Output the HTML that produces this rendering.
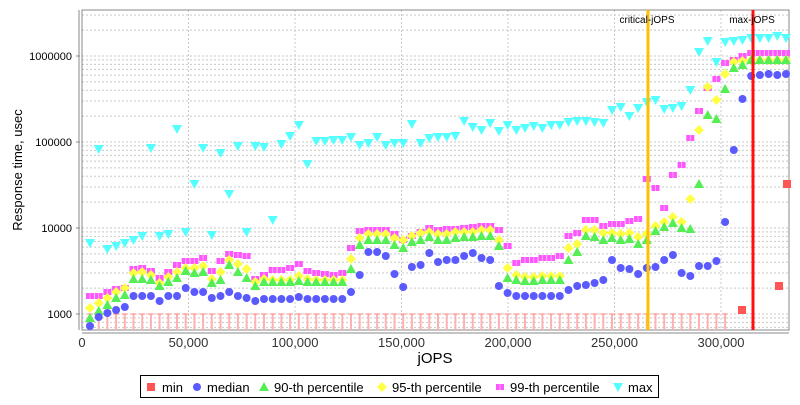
<!DOCTYPE html>
<html><head><meta charset="utf-8"><style>
body{margin:0;background:#fff;font-family:"Liberation Sans","DejaVu Sans",sans-serif;}
svg text{font-family:"Liberation Sans","DejaVu Sans",sans-serif;}
</style></head><body>
<svg id="s" width="800" height="400" xmlns="http://www.w3.org/2000/svg"></svg>
<script>
const s=document.getElementById('s');let h='';
const L=82,R=789,T=10,B=330;
const yv=v=>314-86*(Math.log10(v)-3);
for(let d=2;d<=6;d++){for(let m=1;m<10;m++){const v=Math.pow(10,d)*m;const y=yv(v);if(y<T||y>B)continue;h+=`<line x1="${L}" x2="${R}" y1="${y}" y2="${y}" stroke="#c8c8c8" stroke-dasharray="2,2" stroke-width="1"/>`;}}
for(let k=50000;k<=300000;k+=50000){const x=82+k*0.00213;h+=`<line x1="${x}" x2="${x}" y1="${T}" y2="${B}" stroke="#c8c8c8" stroke-dasharray="2,2"/>`;h+=`<text x="${x}" y="347" font-size="13" fill="#333" text-anchor="middle">${(k/1000)+',000'}</text>`;}
h+=`<text x="${L}" y="347" font-size="13" fill="#333" text-anchor="middle">0</text>`;
[[1000,'1000'],[10000,'10000'],[100000,'100000'],[1000000,'1000000']].forEach(([v,t])=>{const y=yv(v);h+=`<text x="72" y="${y+4}" font-size="11" fill="#000" text-anchor="end">${t}</text><line x1="76" x2="80" y1="${y}" y2="${y}" stroke="#888"/>`;});
h+=`<rect x="${L}" y="${T}" width="${R-L}" height="${B-T}" fill="none" stroke="#888"/>`;
h+=`<line x1="79" x2="79" y1="${T}" y2="${B}" stroke="#888"/><line x1="${L}" x2="${R}" y1="333" y2="333" stroke="#888"/>`;
const X=i=>90+8.7*(i-1);
for(let i=1;i<=74;i++){const x=X(i);h+=`<line x1="${x}" x2="${x}" y1="314" y2="330" stroke="#ffb0b0" stroke-width="2"/><line x1="${x-3}" x2="${x+3}" y1="314" y2="314" stroke="#ff8080"/>`;}
const med=[326,317,313,310,307,296,296,296,301,296,296,288,292,292,298,296,292,296,298,301,299,299,299,299,297,299,299,299,299,299,292,275,252,252,256,274,287,267,265,253,262,260,260,256,253,258,260,286,293,296,296,296,296,296,296,290,286,285,283,280,260,268,269,274,268,267,260,255,273,276,266,266,261,222,150,99,76,75,74,75,74];
const g90=[318,311,305,298,295,279,279,280,286,282,278,271,273,272,283,280,265,272,278,286,282,282,282,282,281,282,282,282,282,282,269,245,240,240,240,245,248,242,240,237,240,240,238,237,237,236,236,246,278,280,281,281,280,280,280,260,252,236,237,240,238,240,239,244,240,231,227,223,228,229,184,115,119,89,68,65,60,60,60,60,60];
const p95=[308,303,298,292,288,273,272,275,283,277,272,268,268,266,279,272,260,264,269,282,279,280,280,280,276,279,280,280,280,280,259,238,234,234,234,238,240,236,233,232,234,234,232,232,232,230,230,240,268,275,277,277,276,276,276,248,244,230,230,233,233,234,233,237,234,226,222,217,222,199,130,87,100,74,62,61,60,60,60,60,60];
const p99=[296,296,292,289,288,269,268,271,278,272,265,261,261,258,271,261,254,255,256,279,275,270,270,268,264,271,273,274,275,273,248,231,230,230,230,234,240,236,232,228,230,229,229,228,227,226,226,230,246,263,260,260,258,258,256,236,233,220,220,226,224,224,221,219,179,188,208,175,165,138,111,88,79,63,60,56,53,53,53,53,53];
const mx=[243,149,249,246,243,240,236,148,236,234,129,232,184,148,235,153,194,146,232,146,147,220,144,136,125,164,141,141,140,140,137,145,143,137,145,143,143,124,143,138,137,137,136,121,127,130,123,131,125,130,128,126,128,125,125,122,121,121,122,123,110,107,116,108,102,100,109,108,106,90,52,41,62,42,41,40,38,38,38,36,38];
const circ=(x,y)=>`<circle cx="${x}" cy="${y}" r="4" fill="#5a5aff"/>`;
const tri=(x,y)=>`<polygon points="${x},${y-5} ${x-5},${y+4} ${x+5},${y+4}" fill="#55ee55"/>`;
const dia=(x,y)=>`<polygon points="${x},${y-5} ${x+5},${y} ${x},${y+5} ${x-5},${y}" fill="#ffff44"/>`;
const sq=(x,y)=>`<rect x="${x-4}" y="${y-3}" width="8" height="6" fill="#ff55ff"/><line x1="${x}" x2="${x}" y1="${y-3}" y2="${y+3}" stroke="#ffaaff"/>`;
const dt=(x,y)=>`<polygon points="${x-5},${y-4} ${x+5},${y-4} ${x},${y+5}" fill="#55ffff"/>`;
mx.forEach((y,i)=>h+=dt(X(i+1),y));
p99.forEach((y,i)=>h+=sq(X(i+1),y));
p95.forEach((y,i)=>h+=dia(X(i+1),y));
g90.forEach((y,i)=>h+=tri(X(i+1),y));
med.forEach((y,i)=>h+=circ(X(i+1),y));
[[742,310],[779,286],[787,184]].forEach(([x,y])=>h+=`<rect x="${x-4}" y="${y-4}" width="8" height="8" fill="#ff5555"/>`);
h+=`<line x1="648" x2="648" y1="${T}" y2="${B}" stroke="#ffc000" stroke-width="3"/>`;
h+=`<line x1="753" x2="753" y1="${T}" y2="${B}" stroke="#ff1010" stroke-width="3"/>`;
h+=`<text x="647" y="23" font-size="10" text-anchor="middle">critical-jOPS</text><text x="752" y="23" font-size="10" text-anchor="middle">max-jOPS</text>`;
h+=`<text x="22" y="170" font-size="13" text-anchor="middle" transform="rotate(-90 22 170)">Response time, usec</text>`;
h+=`<text x="435" y="363" font-size="15" text-anchor="middle">jOPS</text>`;
h+=`<rect x="140.5" y="375.5" width="518" height="22" fill="#fff" stroke="#000"/>`;
const ly=387;
h+=`<rect x="147" y="${ly-4}" width="8" height="8" fill="#ff5555"/><text x="162" y="${ly+5}" font-size="13">min</text>`;
h+=circ(197,ly)+`<text x="207" y="${ly+5}" font-size="13">median</text>`;
h+=tri(264,ly)+`<text x="274" y="${ly+5}" font-size="13">90-th percentile</text>`;
h+=dia(382,ly)+`<text x="392" y="${ly+5}" font-size="13">95-th percentile</text>`;
h+=sq(500,ly)+`<text x="510" y="${ly+5}" font-size="13">99-th percentile</text>`;
h+=dt(618,ly)+`<text x="628" y="${ly+5}" font-size="13">max</text>`;
s.innerHTML=h;
</script>
</body></html>
